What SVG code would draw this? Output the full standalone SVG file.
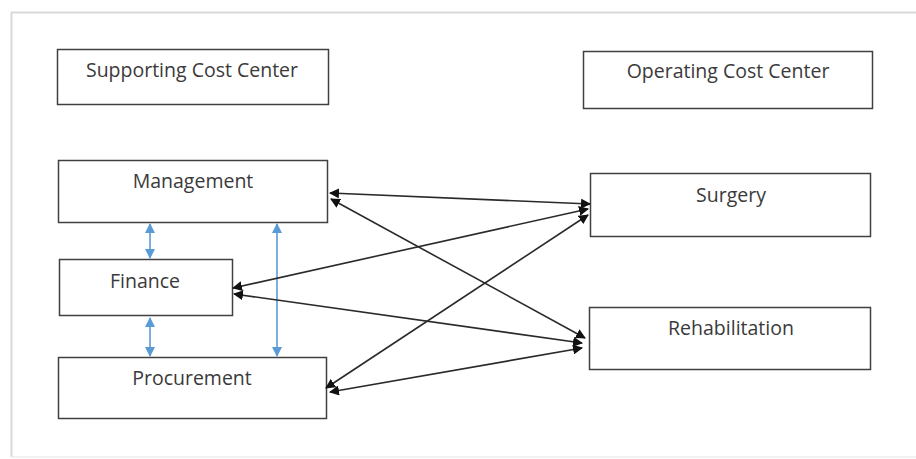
<svg xmlns="http://www.w3.org/2000/svg" width="916" height="459" viewBox="0 0 916 459">
<style>
.box{fill:#fff;stroke:#404040;stroke-width:1.5}
.lbl{font-family:"Open Sans","Noto Sans","Liberation Sans",sans-serif;font-size:19.5px;fill:#3a3a3a;text-anchor:middle}
.blk{stroke:#2a2a2a;stroke-width:1.6;fill:none;marker-start:url(#ab);marker-end:url(#ab)}
.blu{stroke:#5b9bd5;stroke-width:1.6;fill:none;marker-start:url(#au);marker-end:url(#au)}
</style>
<defs>
<marker id="ab" viewBox="0 0 10 10" refX="9" refY="5" markerWidth="10" markerHeight="10" markerUnits="userSpaceOnUse" orient="auto-start-reverse"><path d="M0,0 L10,5 L0,10 z" fill="#111"/></marker>
<marker id="au" viewBox="0 0 10 10" refX="9" refY="5" markerWidth="10" markerHeight="10" markerUnits="userSpaceOnUse" orient="auto-start-reverse"><path d="M0,0 L10,5 L0,10 z" fill="#5b9bd5"/></marker>
</defs>
<rect x="0" y="0" width="916" height="459" fill="#fff"/>
<path d="M11.5,457 L11.5,12.5 L916,12.5" fill="none" stroke="#d9d9d9" stroke-width="2"/>
<line x1="11" y1="457" x2="916" y2="457" stroke="#ececec" stroke-width="1.5"/>
<g id="supporting"><rect class="box" x="57.5" y="49.5" width="271" height="55"/><text class="lbl" x="192" y="77">Supporting Cost Center</text></g>
<g id="operating"><rect class="box" x="583.5" y="51.5" width="289" height="57"/><text class="lbl" x="728" y="78">Operating Cost Center</text></g>
<g id="management"><rect class="box" x="58.5" y="160.5" width="269" height="62"/><text class="lbl" x="193" y="188">Management</text></g>
<g id="finance"><rect class="box" x="59.5" y="259.5" width="173" height="56"/><text class="lbl" x="145" y="288">Finance</text></g>
<g id="procurement"><rect class="box" x="58.5" y="357.5" width="268" height="61"/><text class="lbl" x="192" y="385">Procurement</text></g>
<g id="surgery"><rect class="box" x="590.5" y="173.5" width="280" height="63"/><text class="lbl" x="731" y="202">Surgery</text></g>
<g id="rehabilitation"><rect class="box" x="589.5" y="307.5" width="281" height="62"/><text class="lbl" x="731" y="335">Rehabilitation</text></g>
<g id="connectors">
<line class="blu" x1="150" y1="224" x2="150" y2="258"/>
<line class="blu" x1="150" y1="318" x2="150" y2="356"/>
<line class="blu" x1="277" y1="224" x2="277" y2="356"/>
<line class="blk" x1="330" y1="193" x2="590" y2="204"/>
<line class="blk" x1="331" y1="199" x2="585" y2="338"/>
<line class="blk" x1="233" y1="288" x2="588" y2="209"/>
<line class="blk" x1="234" y1="294" x2="582" y2="343"/>
<line class="blk" x1="326" y1="388" x2="588" y2="215"/>
<line class="blk" x1="330" y1="392" x2="582" y2="348"/>
</g>
</svg>
